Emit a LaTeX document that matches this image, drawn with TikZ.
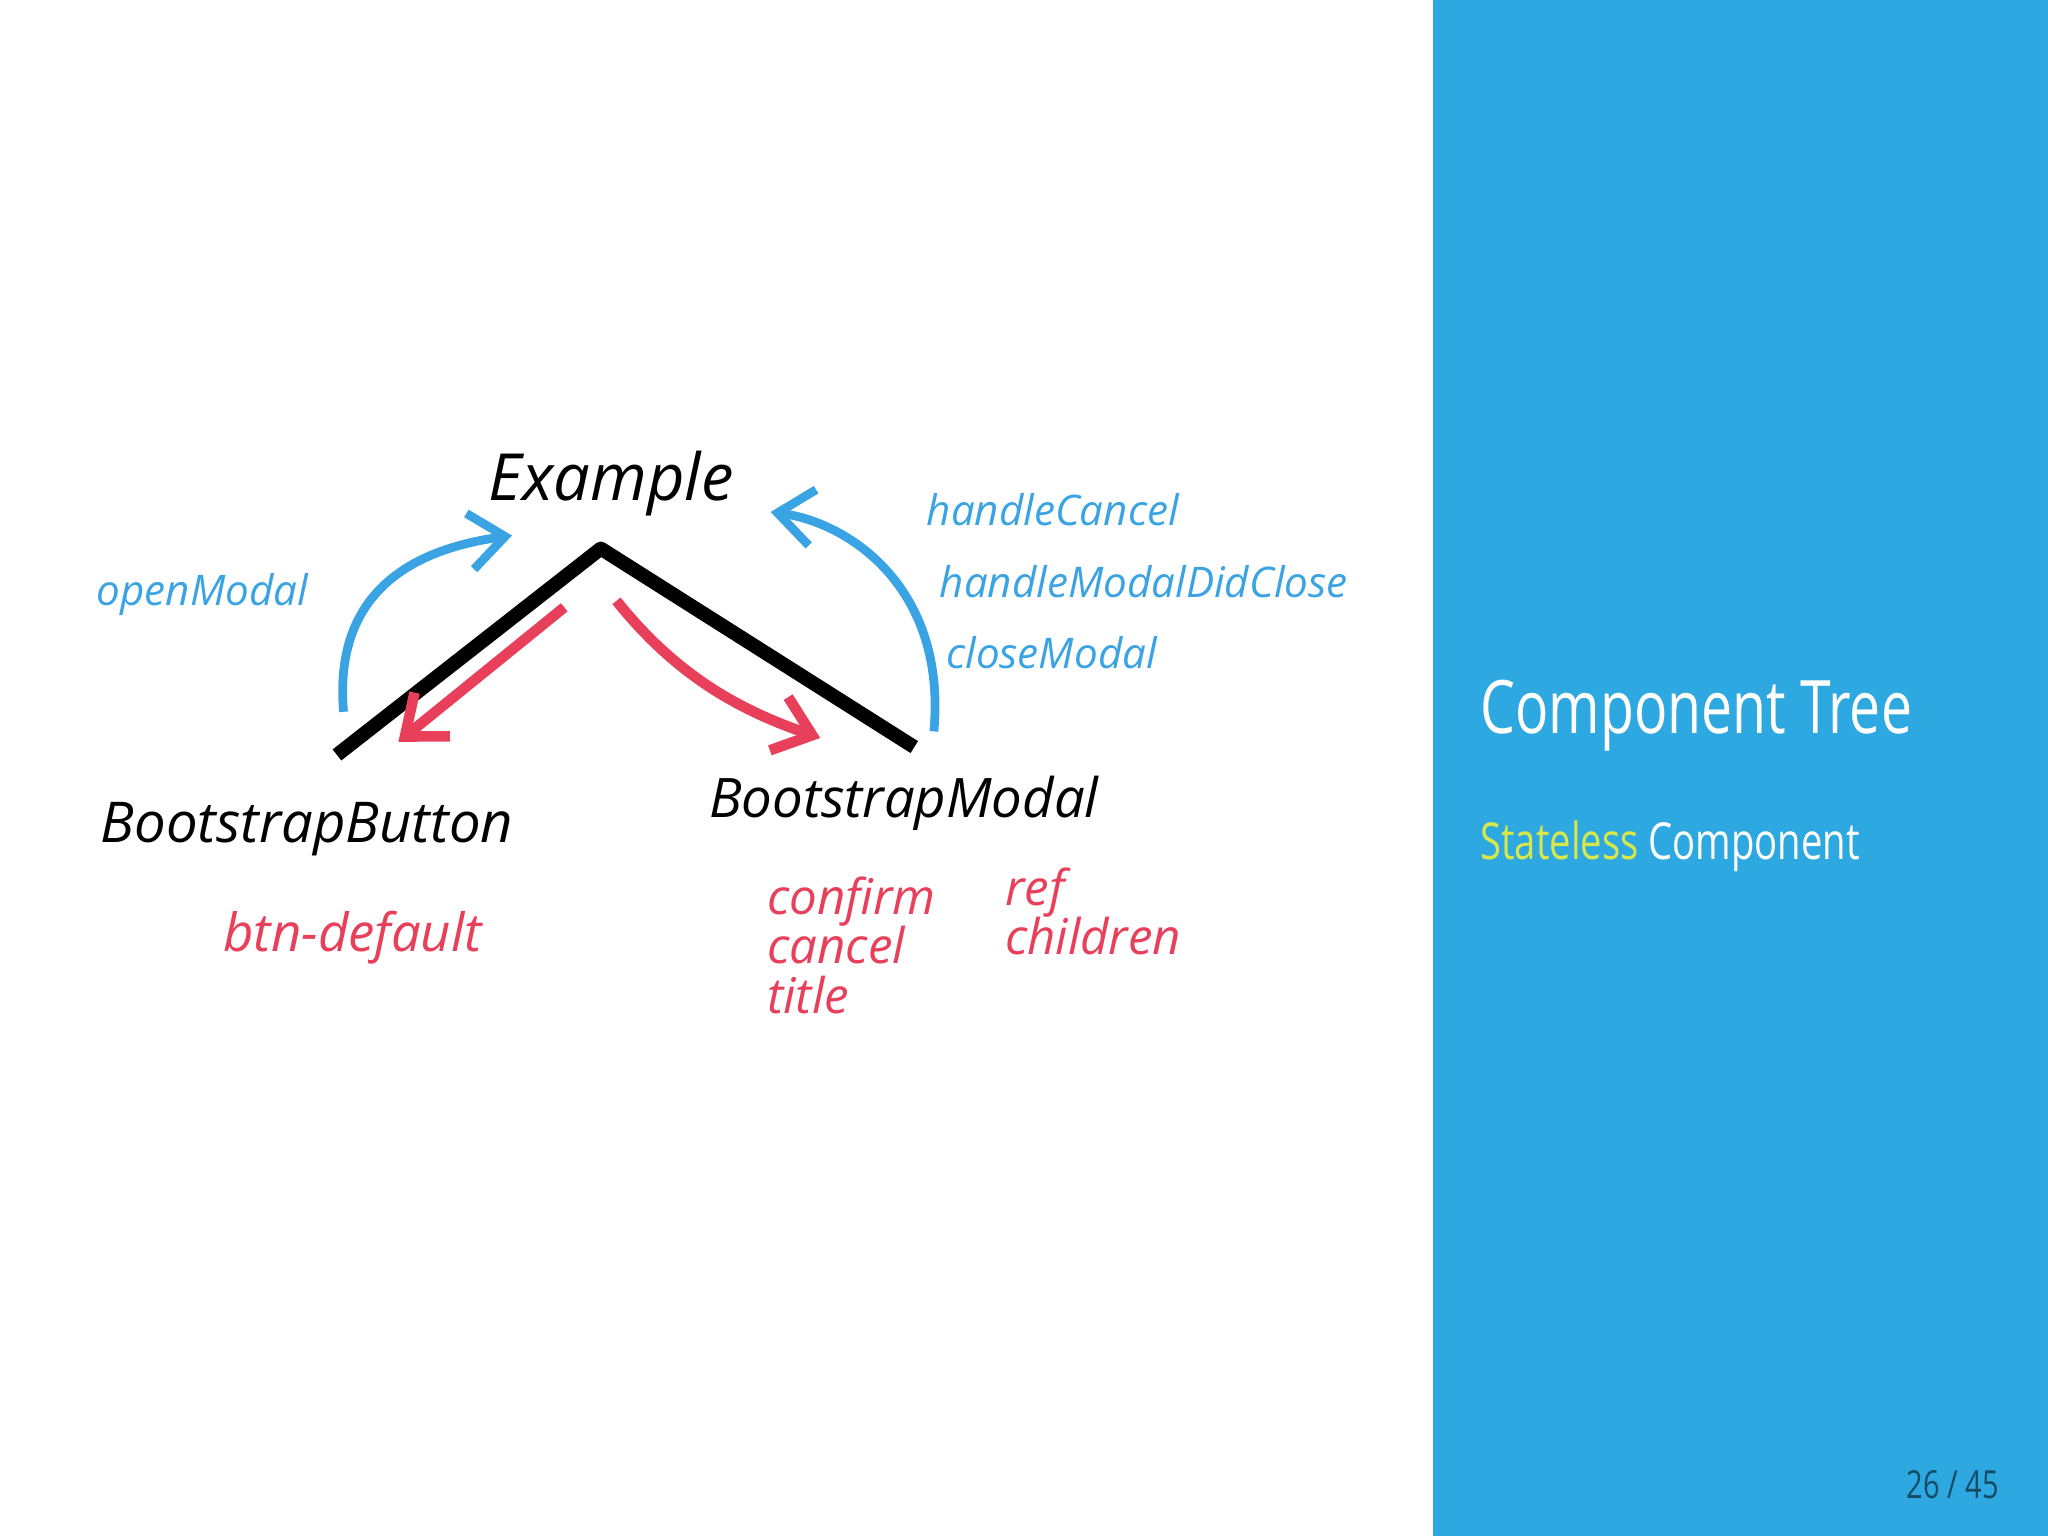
\documentclass[tikz,border=0pt]{standalone}
\usepackage{fontspec}
\setmainfont{Open Sans}
\newfontfamily\cond[FakeStretch=0.75]{Open Sans}
\usetikzlibrary{arrows.meta}
\definecolor{panel}{HTML}{2EA8E0}
\definecolor{hblue}{HTML}{3AA3E3}
\definecolor{hred}{HTML}{E8405A}
\definecolor{ylw}{HTML}{D8E84A}
\tikzset{
 blk/.style={font=\fontsize{16}{18}\selectfont\itshape, text=black},
 blu/.style={font=\fontsize{12}{14}\selectfont\itshape, text=hblue},
 red/.style={font=\fontsize{14}{16}\selectfont\itshape, text=hred, align=left},
 barr/.style={hblue, line width=2.5pt, -{Straight Barb[length=10pt,width=16pt]}},
 rarr/.style={hred, line width=3pt, -{Straight Barb[length=10pt,width=16pt]}}
}
\begin{document}
\begin{tikzpicture}[x=0.013061cm,y=-0.013061cm]
\useasboundingbox (0,0) rectangle (1568,1176);
\fill[panel] (1097,0) rectangle (1568,1176);
\node[anchor=west,text=white,font=\cond\fontsize{21}{23}\selectfont] (t) at (1124,548) {Component Tree};
\node[anchor=west,font=\cond\fontsize{14.5}{16}\selectfont] (s) at (1124,648) {\textcolor{ylw}{Stateless} \textcolor{white}{Component}};
\node[anchor=east,text=black!55!panel,font=\cond\fontsize{11}{13}\selectfont] (p) at (1540,1137) {26 / 45};

\node[blk,font=\fontsize{18.5}{20}\selectfont\itshape] (ex) at (468,370) {Example};
\node[blk] (bb) at (235,635) {BootstrapButton};
\node[blk,font=\fontsize{15.5}{18}\selectfont\itshape] (bm) at (692,615) {BootstrapModal};
\coordinate (top) at (460,420);
\coordinate (l) at (258,578);
\coordinate (r) at (700,572);
\draw[line width=4pt, line join=round] (l) -- (top) -- (r);

\node[blu] (om) at (155,455) {openModal};
\node[blu,anchor=west] (hc) at (700,390) {handleCancel};
\node[blu,anchor=west] (hm) at (710,445) {handleModalDidClose};
\node[blu,anchor=west] (cm) at (715,500) {closeModal};

\coordinate (a1) at (263,545); \coordinate (a1e) at (392,410);
\draw[barr] (a1) .. controls (255,450) and (320,420) .. (a1e);
\coordinate (a2) at (715,560); \coordinate (a2e) at (590,392);
\draw[barr] (a2) .. controls (725,450) and (650,400) .. (a2e);
\coordinate (r1) at (432,465); \coordinate (r1e) at (305,568);
\draw[rarr] (r1) -- (r1e);
\coordinate (r2) at (472,460); \coordinate (r2e) at (628,565);
\draw[rarr] (r2) .. controls (520,520) and (570,545) .. (r2e);

\node[red,font=\fontsize{15}{17}\selectfont\itshape] (bd) at (270,718) {btn-default};
\node[red,anchor=north west] (cc) at (578,662) {confirm\\[-2pt]cancel\\[-2pt]title};
\node[red,anchor=north west] (rc) at (760,655) {ref\\[-2pt]children};
\end{tikzpicture}
\end{document}
